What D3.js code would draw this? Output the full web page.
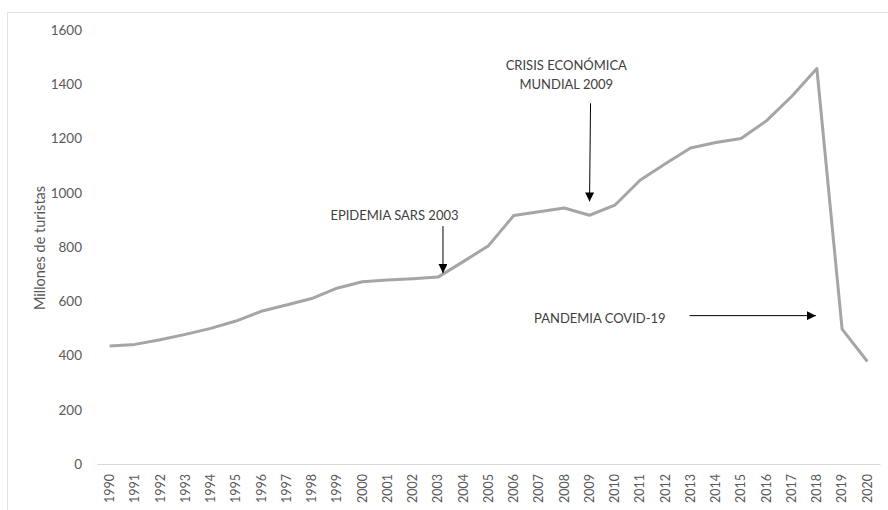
<!DOCTYPE html>
<html lang="es">
  <head>
    <meta charset="utf-8" />
    <title>Turistas internacionales</title>
    <script src="https://cdn.jsdelivr.net/npm/d3@7"></script>
    <style>
      body { margin: 0; background: #fff; }
    </style>
  </head>
  <body>
    <svg id="chart" width="888" height="510"></svg>
    <script>
      // data
      const years = d3.range(1990, 2021);
      const tourists = [435, 441, 458, 478, 500, 527, 563, 586, 610, 648,
        672, 678, 683, 689, 746, 805, 916, 930, 944, 917,
        954, 1046, 1107, 1165, 1185, 1200, 1265, 1355, 1458, 497, 378];
      const yTicks = [0, 200, 400, 600, 800, 1000, 1200, 1400, 1600];

      const fontFam = "Lato, 'Open Sans', sans-serif";
      const svg = d3.select("#chart").attr("font-family", fontFam);

      // light frame around the chart area
      svg.append("rect")
        .attr("x", 7.5).attr("y", 12.5)
        .attr("width", 900).attr("height", 520)
        .attr("fill", "none")
        .attr("stroke", "#e3e3e3");

      const margin = { top: 30, right: 8, bottom: 46, left: 97 };
      const width = 888, height = 510;
      const innerW = width - margin.left - margin.right;
      const innerH = height - margin.top - margin.bottom;

      const g = svg.append("g")
        .attr("transform", `translate(${margin.left},${margin.top})`);

      const x = d3.scaleBand()
        .domain(years)
        .range([0, innerW]);

      const y = d3.scaleLinear()
        .domain([0, 1600])
        .range([innerH, 0]);

      // x axis
      const xAxis = g.append("g")
        .attr("transform", `translate(0,${innerH})`)
        .call(d3.axisBottom(x).tickSize(0).tickPadding(6));
      xAxis.select(".domain").attr("stroke", "#d9d9d9");
      xAxis.selectAll("text")
        .attr("transform", "rotate(-90)")
        .attr("text-anchor", "end")
        .attr("dy", "0.35em")
        .attr("x", -10)
        .attr("y", 0)
        .attr("fill", "#595959")
        .attr("font-size", "12.5px")
        .attr("font-family", fontFam);

      // y axis
      const yAxis = g.append("g")
        .call(d3.axisLeft(y).tickValues(yTicks).tickFormat(d3.format("d"))
          .tickSize(0).tickPadding(15));
      yAxis.select(".domain").remove();
      yAxis.selectAll("text")
        .attr("fill", "#595959")
        .attr("font-size", "13.5px")
        .attr("font-family", fontFam);

      // y label
      g.append("text")
        .attr("transform", "rotate(-90)")
        .attr("x", -innerH / 2 - 1)
        .attr("y", -52)
        .attr("text-anchor", "middle")
        .attr("fill", "#595959")
        .attr("font-size", "14.5px")
        .text("Millones de turistas");

      // line
      const line = d3.line()
        .x((d, i) => x(years[i]) + x.bandwidth() / 2)
        .y(d => y(d));

      g.append("path")
        .datum(tourists)
        .attr("fill", "none")
        .attr("stroke", "#a5a5a5")
        .attr("stroke-width", 3)
        .attr("stroke-linejoin", "round")
        .attr("d", line);

      // arrow marker
      svg.append("defs").append("marker")
        .attr("id", "arrow")
        .attr("viewBox", "0 0 10 10")
        .attr("refX", 10).attr("refY", 5)
        .attr("markerWidth", 9).attr("markerHeight", 9)
        .attr("markerUnits", "userSpaceOnUse")
        .attr("orient", "auto")
        .append("path")
        .attr("d", "M0,0 L10,5 L0,10 Z")
        .attr("fill", "#000");

      const xc = yr => x(yr) + x.bandwidth() / 2;

      function arrow(x1, y1, x2, y2) {
        g.append("line")
          .attr("x1", x1).attr("y1", y1)
          .attr("x2", x2).attr("y2", y2)
          .attr("stroke", "#000")
          .attr("stroke-width", 1)
          .attr("marker-end", "url(#arrow)");
      }

      function label(lines, cx, cy, anchor) {
        const t = g.append("text")
          .attr("text-anchor", anchor || "middle")
          .attr("fill", "#404040")
          .attr("font-size", "13px");
        lines.forEach((s, i) => {
          t.append("tspan").attr("x", cx).attr("y", cy + i * 19).text(s);
        });
      }

      // SARS 2003
      label(["EPIDEMIA SARS 2003"], xc(2001) + 7, y(899));
      arrow(xc(2003) + 5, y(877), xc(2003) + 5, y(704));

      // crisis 2009
      label(["CRISIS ECONÓMICA", "MUNDIAL 2009"], xc(2008) + 2, y(1452));
      arrow(xc(2009) + 1, y(1330), xc(2009), y(968));

      // covid
      label(["PANDEMIA COVID-19"], xc(2007) - 5, y(519), "start");
      arrow(xc(2013) - 1, y(547), xc(2018) - 1, y(547));
    </script>
  </body>
</html>
